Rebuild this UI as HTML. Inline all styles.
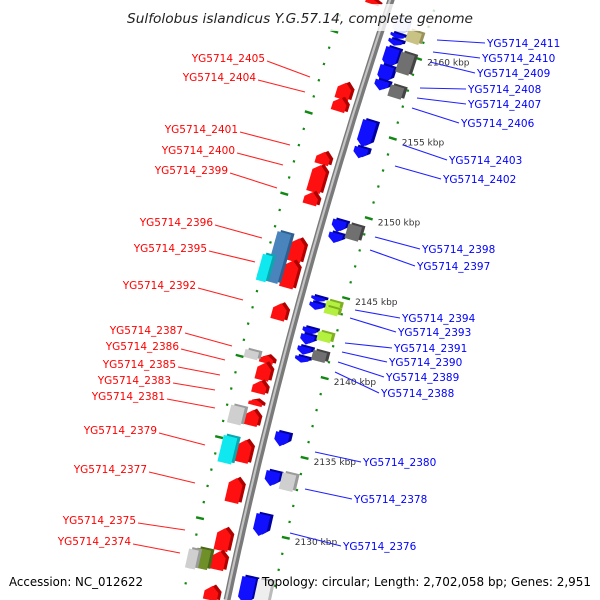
<!DOCTYPE html>
<html><head><meta charset="utf-8"><style>
html,body{margin:0;padding:0;background:#fff;width:600px;height:600px;overflow:hidden}
svg{display:block}
text{font-family:"DejaVu Sans","Liberation Sans",sans-serif}
</style></head><body>
<svg id="chart" width="600" height="600" viewBox="0 0 600 600" xmlns="http://www.w3.org/2000/svg" overflow="hidden">
<g id="ticks"></g>
<g id="backbone"></g>
<g id="genes"></g>
<g id="labels"></g>
<rect x="118" y="4" width="364" height="27" fill="#fff" opacity="0.78"/>
<text x="127" y="23" font-size="13.5" font-style="italic" fill="#222" textLength="346" lengthAdjust="spacingAndGlyphs">Sulfolobus islandicus Y.G.57.14, complete genome</text>
<text x="9" y="586" font-size="12" fill="#000" textLength="134" lengthAdjust="spacingAndGlyphs">Accession: NC_012622</text>
<text x="262" y="586" font-size="12" fill="#000" textLength="329" lengthAdjust="spacingAndGlyphs">Topology: circular; Length: 2,702,058 bp; Genes: 2,951</text>
</svg>
<script>
// gene data: [kbpTop, kbpBottom, side, lane, colour, direction]
const geneStart=[2162.5,2161.96,2161.02,2160.65,2160.16,2159.04,2158.11,2155.62,2153.94,2149.41,2148.60,2144.63,2144.25,2142.70,2142.27,2141.52,2140.90,2136.18,2133.76,2131.09,2127.17,
2161.49,2160.12,2158.07,2149.38,2144.60,2144.22,2142.67,2141.49,2133.85,2127.2,
2157.36,2156.43,2153.07,2152.27,2150.59,2147.73,2146.36,2143.70,2140.47,2140.03,2138.91,2137.72,2137.10,2135.24,2132.88,2129.78,2128.35,2126.2,
2147.83,2140.50,2137.08,2135.22,2128.26,2146.27,2128.1];
const geneEnd=[2162.2,2160.90,2160.71,2160.28,2158.91,2157.98,2157.48,2153.94,2153.26,2148.66,2147.98,2144.32,2143.82,2142.27,2141.65,2141.02,2140.53,2135.31,2132.83,2129.72,2125.5,
2160.75,2158.82,2157.33,2148.45,2144.22,2143.79,2142.11,2140.87,2132.80,2125.6,
2156.30,2155.56,2152.27,2150.53,2149.78,2146.24,2144.62,2142.64,2139.97,2138.91,2138.10,2137.35,2136.11,2133.81,2131.33,2128.35,2127.17,2125.3,
2144.66,2140.0,2135.96,2133.54,2127.02,2144.60,2126.9];
const geneSide=[-1,1,1,1,1,1,1,1,1,1,1,1,1,1,1,1,1,1,1,1,1, 1,1,1,1,1,1,1,1,1,1, -1,-1,-1,-1,-1,-1,-1,-1,-1,-1,-1,-1,-1,-1,-1,-1,-1,-1, -1,-1,-1,-1,-1,-1,-1];
const geneLane=[1,1,1,1,1,1,1,1,1,1,1,1,1,1,1,1,1,1,1,1,1, 2,2,2,2,2,2,2,2,2,2, 1,1,1,1,1,1,1,1,1,1,1,1,1,1,1,1,1,1, 2,2,2,2,2,3,3];
const geneColor=['red','pale','blue','blue','blue','blue','blue','blue','blue','blue','blue','blue','blue','blue','blue','blue','blue','blue','blue','blue','blue',
'khaki','dgrey','dgrey','dgrey','lime','lime','lime','dgrey','lgrey','white',
'red','red','red','red','red','red','red','red','red','red','red','red','red','red','red','red','red','red',
'steel','lgrey','lgrey','cyan','olive','cyan','lgrey'];
const geneDir=['up','down','down','down','down','down','down','down','down','down','down','down','down','down','down','down','down','down','down','down','down',
'none','none','none','none','none','none','none','none','none','none',
'up','up','up','up','up','up','up','up','up','up','up','up','up','up','up','up','up','up',
'none','none','none','none','none','none','none'];
const tickKbp=[2130,2135,2140,2145,2150,2155,2160];
const tickLabels=['2130 kbp','2135 kbp','2140 kbp','2145 kbp','2150 kbp','2155 kbp','2160 kbp'];
const leftLabels=['YG5714_2405','YG5714_2404','YG5714_2401','YG5714_2400','YG5714_2399','YG5714_2396','YG5714_2395','YG5714_2392','YG5714_2387','YG5714_2386','YG5714_2385','YG5714_2383','YG5714_2381','YG5714_2379','YG5714_2377','YG5714_2375','YG5714_2374'];
const leftLabelY=[58,77,129,150,170,222,248,285,330,346,364,380,396,430,469,520,541];
const leftLabelEnd=[265,256,238,235,228,213,207,196,183,179,176,171,165,157,147,136,131];
const leftLineTo=[[310,77],[305,92],[290,145],[283,165],[277,188],[262,238],[255,262],[243,300],[232,346],[225,360],[220,375],[215,390],[215,408],[205,445],[195,483],[185,530],[180,553]];
const rightLabels=['YG5714_2411','YG5714_2410','YG5714_2409','YG5714_2408','YG5714_2407','YG5714_2406','YG5714_2403','YG5714_2402','YG5714_2398','YG5714_2397','YG5714_2394','YG5714_2393','YG5714_2391','YG5714_2390','YG5714_2389','YG5714_2388','YG5714_2380','YG5714_2378','YG5714_2376'];
const rightLabelY=[43,58,73,89,104,123,160,179,249,266,318,332,348,362,377,393,462,499,546];
const rightLabelStart=[487,482,477,468,468,461,449,443,422,417,402,398,394,389,386,381,363,354,343];
const rightLineFrom=[[437,40],[433,52],[430,62],[420,88],[417,98],[412,108],[403,145],[395,166],[375,237],[370,250],[355,310],[350,318],[345,343],[342,352],[338,362],[335,372],[315,452],[305,489],[290,533]];

const NS='http://www.w3.org/2000/svg';
const PX=16.1;
function Y0(k){return 45+(2160-k)*PX;}
function bx(y){return 391-0.3333*y+0.0001*y*y;}
function sl(y){return -0.3333+0.0002*y;}
function frame(k,d){const y=Y0(k),s=sl(y),m=Math.sqrt(1+s*s);return {x:bx(y)+d/m,y:y-d*s/m,ang:Math.atan(-s)*180/Math.PI};}
function mk(tag,attrs,parent){const e=document.createElementNS(NS,tag);for(const a in attrs)e.setAttribute(a,attrs[a]);parent.appendChild(e);return e;}

// backbone
const bb=document.getElementById('backbone');
let pts=[];for(let y=-10;y<=600;y+=10)pts.push(bx(y).toFixed(1)+','+y);
const bl=mk('polyline',{points:pts.join(' '),fill:'none',stroke:'#7a7a7a','stroke-width':7},bb);


const bl2=mk('polyline',{points:pts.join(' '),fill:'none',stroke:'#c4c4c4','stroke-width':2.2,transform:'translate(-1,0)'},bb);



// tick rows
const tg=document.getElementById('ticks');
for(let k=2164;k>=2125;k--){
  [-44,44].forEach(d=>{
    const f=frame(k,d);const big=(k%5===0);
    if(f.y<0||f.y>598)return;
    const r=mk('rect',{x:big?-4:-1,y:big?-1.2:-1,width:big?8:2.2,height:big?2.4:2.2,fill:'#118811',transform:`translate(${f.x.toFixed(1)},${f.y.toFixed(1)}) rotate(${f.ang.toFixed(2)})`},tg);
    
    
  });
}
tickKbp.forEach((k,i)=>{
  const f=frame(k,44);
  const t=mk('text',{x:(f.x+9).toFixed(1),y:(f.y+7).toFixed(1),'font-size':'9','fill':'#333'},tg);
  t.textContent=tickLabels[i];
  
  
});

// genes
const COL={red:['#ff1010','#b00000'],blue:['#1010ff','#0000a0'],pale:['#d4d8ff','#b8bef0'],khaki:['#c9c285','#99925a'],dgrey:['#707070','#444'],lgrey:['#cfcfcf','#9a9a9a'],white:['#eeeeee','#bbbbbb'],lime:['#b4f040','#7fb020'],steel:['#4a84bc','#2e5f90'],cyan:['#10e8f0','#08a8b0'],olive:['#6f8f28','#4c6618']};
const LANE={1:17,2:33,3:43};
const gg=document.getElementById('genes');
for(let i=0;i<geneStart.length;i++){
  const kt=geneStart[i],kb=geneEnd[i],mid=(kt+kb)/2;
  const f=frame(mid,geneSide[i]*LANE[geneLane[i]]);
  const L=Math.max(2,(kt-kb)*PX),w=geneLane[i]===3?10:14,h=w/2,top=-L/2,bot=L/2;
  const tip=Math.min(6,L*0.5);
  let p;
  if(geneDir[i]==='up')p=[[-h,bot],[-h,top+tip],[0,top],[h,top+tip],[h,bot]];
  else if(geneDir[i]==='down')p=[[-h,top],[h,top],[h,bot-tip],[0,bot],[-h,bot-tip]];
  else p=[[-h,top],[h,top],[h,bot],[-h,bot]];
  const g=mk('g',{transform:`translate(${f.x.toFixed(1)},${f.y.toFixed(1)}) rotate(${f.ang.toFixed(2)})`},gg);
  
  
  const c=COL[geneColor[i]];
  mk('polygon',{points:p.map(q=>(q[0]+3)+','+(q[1]-2)).join(' '),fill:c[1]},g);
  mk('polygon',{points:p.map(q=>q[0]+','+q[1]).join(' '),fill:c[0]},g);
}

// labels
const lg=document.getElementById('labels');
leftLabels.forEach((s,i)=>{
  const y=leftLabelY[i];
  const ln=mk('line',{x1:leftLabelEnd[i]+2,y1:y+3,x2:leftLineTo[i][0],y2:leftLineTo[i][1],stroke:'#ff2020','stroke-width':1.1},lg);
  
  
  const t=mk('text',{x:leftLabelEnd[i],y:y+4,'font-size':'10.5','text-anchor':'end',fill:'#ff0000'},lg);
  t.textContent=s;
  
  
});
rightLabels.forEach((s,i)=>{
  const y=rightLabelY[i];
  const ln=mk('line',{x1:rightLineFrom[i][0],y1:rightLineFrom[i][1],x2:rightLabelStart[i]-2,y2:y,stroke:'#2020ff','stroke-width':1.1},lg);
  
  
  const t=mk('text',{x:rightLabelStart[i],y:y+4,'font-size':'10.5',fill:'#0000ff'},lg);
  t.textContent=s;
  
  
});
</script>
</body></html>
